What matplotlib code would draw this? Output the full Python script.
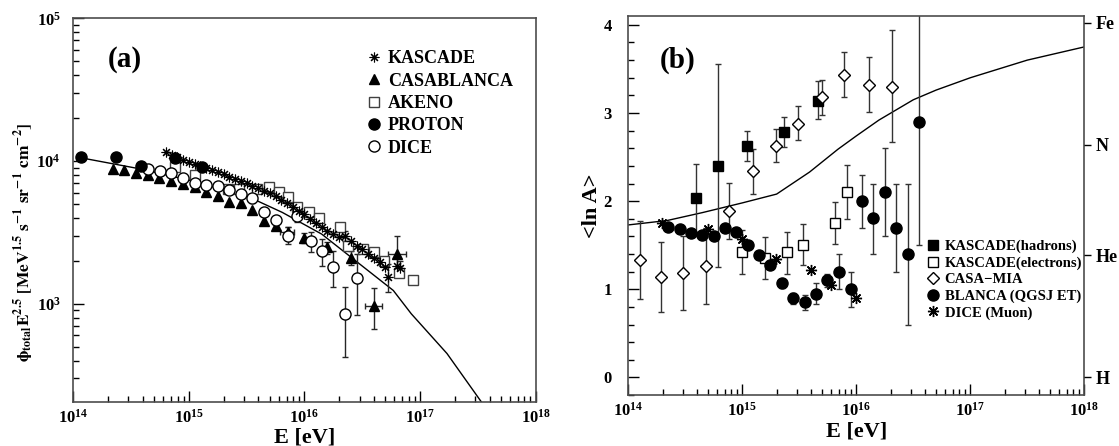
import numpy as np
import matplotlib.pyplot as plt
from matplotlib.ticker import LogLocator, NullFormatter, MultipleLocator

plt.rcParams['font.family'] = ['Liberation Serif', 'DejaVu Serif']
plt.rcParams['font.weight'] = 'bold'
plt.rcParams['axes.labelweight'] = 'bold'
plt.rcParams['mathtext.fontset'] = 'stix'
plt.rcParams['mathtext.default'] = 'bf'

nan = np.nan

# ---------------- panel (a) : all-particle flux ----------------
kascade_E = [6.31e14, 7.08e14, 7.94e14, 8.91e14, 1.0e15, 1.12e15, 1.26e15, 1.41e15,
             1.58e15, 1.78e15, 2.0e15, 2.24e15, 2.51e15, 2.82e15, 3.16e15, 3.55e15,
             3.98e15, 4.47e15, 5.01e15, 5.62e15, 6.31e15, 7.08e15, 7.94e15, 8.91e15,
             1.0e16, 1.12e16, 1.26e16, 1.41e16, 1.58e16, 1.78e16, 2.0e16, 2.24e16,
             2.51e16, 2.82e16, 3.16e16, 3.55e16, 3.98e16, 4.47e16, 5.01e16, 5.25e16,
             6.31e16, 6.76e16]
kascade_F = [11500, 11000, 10600, 10200, 9850, 9550, 9250, 8950,
             8650, 8350, 8050, 7750, 7450, 7200, 7000, 6700,
             6450, 6200, 5950, 5650, 5350, 5050, 4750, 4500,
             4250, 3950, 3700, 3450, 3250, 3100, 2950, 3000,
             2750, 2550, 2400, 2250, 2100, 1950, 1800, 1550,
             1850, 1780]
kascade_lo = [nan, nan, nan, nan, nan, nan, nan, nan, nan, nan, nan, nan, nan, nan,
              nan, nan, nan, nan, nan, nan, nan, nan, nan, nan, nan, nan, nan, nan,
              nan, nan, nan, 250, nan, nan, nan, nan, nan, nan, nan, 350, 250, 200]
kascade_hi = [nan, nan, nan, nan, nan, nan, nan, nan, nan, nan, nan, nan, nan, nan,
              nan, nan, nan, nan, nan, nan, nan, nan, nan, nan, nan, nan, nan, nan,
              nan, nan, nan, 250, nan, nan, nan, nan, nan, nan, nan, 350, 250, 200]

casa_E = [2.21e14, 2.77e14, 3.52e14, 4.42e14, 5.55e14, 7.03e14, 8.83e14, 1.12e15,
          1.41e15, 1.78e15, 2.23e15, 2.82e15, 3.52e15, 4.50e15, 5.65e15, 7.19e15,
          9.86e15, 1.57e16, 2.53e16, 3.96e16, 6.31e16]
casa_F = [8850, 8650, 8290, 7950, 7650, 7220, 6880, 6590,
          6020, 5700, 5200, 5070, 4570, 3810, 3520, 3160,
          2890, 2480, 2090, 970, 2250]
casa_lo = [nan, nan, nan, nan, nan, nan, nan, nan, nan, nan, nan, nan, nan, nan, nan,
           250, 220, 230, 220, 300, 630]
casa_hi = [nan, nan, nan, nan, nan, nan, nan, nan, nan, nan, nan, nan, nan, nan, nan,
           280, 230, 250, 250, 330, 750]
casa_xlo = [nan, nan, nan, nan, nan, nan, nan, nan, nan, nan, nan, nan, nan, nan, nan,
            1.0e15, nan, nan, nan, 0.64e16, 1.0e16]
casa_xhi = [nan, nan, nan, nan, nan, nan, nan, nan, nan, nan, nan, nan, nan, nan, nan,
            1.0e15, nan, nan, nan, 0.76e16, 1.2e16]

akeno_E = [7.55e14, 1.14e15, 2.20e15, 2.69e15, 3.90e15, 4.90e15, 5.98e15, 7.14e15,
           8.67e15, 1.10e16, 1.33e16, 2.04e16, 2.40e16, 3.20e16, 3.96e16, 4.91e16,
           6.53e16, 8.71e16]
akeno_F = [9130, 7980, 6340, 6340, 6410, 6620, 6110, 5610,
           4800, 4430, 3990, 3470, 2520, 2420, 2290, 2000,
           1640, 1470]

proton_E = [1.16e14, 2.32e14, 3.88e14, 7.55e14, 1.31e15]
proton_F = [10700, 10700, 9230, 10440, 9080]

dice_E = [4.42e14, 5.58e14, 7.03e14, 8.83e14, 1.12e15, 1.40e15, 1.78e15, 2.23e15,
          2.83e15, 3.52e15, 4.50e15, 5.65e15, 7.19e15, 8.67e15, 1.14e16, 1.41e16,
          1.78e16, 2.24e16, 2.84e16]
dice_F = [8750, 8520, 8290, 7660, 7060, 6770, 6690, 6240,
          5910, 5490, 4430, 3870, 3000, 4130, 2740, 2360,
          1820, 850, 1510]
dice_lo = [nan, nan, nan, nan, nan, nan, nan, nan, nan, 400, nan, nan, 380, 400,
           450, 510, 510, 425, 680]
dice_hi = [nan, nan, nan, nan, nan, nan, nan, nan, nan, 350, nan, nan, 430, 400,
           420, 480, 540, 456, 720]

model_a_E = [1.16e14, 3.96e14, 1.08e15, 3.38e15, 6.43e15, 1.41e16, 2.53e16,
             5.87e16, 8.39e16, 1.71e17, 3.38e17, 3.98e17]
model_a_F = [10540, 8750, 7240, 5550, 4365, 3076, 2118,
             1239, 851, 448, 206, 170]

# ---------------- panel (b) : <ln A> ----------------
had_E = [3.94e14, 6.15e14, 1.09e15, 2.30e15, 4.59e15]
had_v = [2.03, 2.40, 2.63, 2.79, 3.14]
had_lo = [0.38, 1.15, 0.17, 0.18, 0.21]
had_hi = [0.39, 1.16, 0.17, 0.16, 0.22]

ele_E = [1.0e15, 1.59e15, 2.49e15, 3.44e15, 6.44e15, 8.36e15]
ele_v = [1.42, 1.35, 1.42, 1.50, 1.75, 2.10]
ele_lo = [0.25, 0.23, 0.25, 0.23, 0.24, 0.30]
ele_hi = [0.25, 0.24, 0.23, 0.24, 0.24, 0.31]

cm_E = [1.27e14, 1.95e14, 3.01e14, 4.81e14, 7.59e14, 1.23e15, 1.99e15, 3.09e15,
        5.01e15, 7.83e15, 1.29e16, 2.07e16]
cm_v = [1.33, 1.14, 1.18, 1.26, 1.89, 2.34, 2.63, 2.88, 3.18, 3.43, 3.32, 3.30]
cm_lo = [0.44, 0.40, 0.42, 0.43, 0.32, 0.26, 0.19, 0.19, 0.20, 0.25, 0.31, 0.63]
cm_hi = [0.45, 0.40, 0.42, 0.43, 0.32, 0.25, 0.19, 0.20, 0.20, 0.26, 0.32, 0.64]

bl_E = [2.22e14, 2.82e14, 3.53e14, 4.42e14, 5.64e14, 7.05e14, 8.81e14, 1.13e15,
        1.40e15, 1.76e15, 2.22e15, 2.81e15, 3.54e15, 4.43e15, 5.57e15, 7.03e15,
        8.91e15, 1.12e16, 1.40e16, 1.77e16, 2.22e16, 2.82e16, 3.56e16]
bl_v = [1.71, 1.68, 1.64, 1.62, 1.60, 1.69, 1.65, 1.50, 1.39, 1.28, 1.07, 0.90,
        0.86, 0.95, 1.10, 1.20, 1.00, 2.00, 1.81, 2.10, 1.70, 1.40, 2.90]
bl_lo = [nan, nan, nan, nan, nan, nan, nan, nan, nan, nan, 0.05, 0.07, 0.09, 0.12,
         0.07, 0.20, 0.20, 0.30, 0.41, 0.50, 0.50, 0.80, 1.40]
bl_hi = [nan, nan, nan, nan, nan, nan, nan, nan, nan, nan, 0.05, 0.06, 0.08, 0.12,
         0.07, 0.20, 0.20, 0.30, 0.39, 0.50, 0.50, 0.80, 2.00]

mu_E = [1.98e14, 4.99e14, 1.0e15, 1.96e15, 3.97e15, 6.0e15, 9.93e15]
mu_v = [1.75, 1.68, 1.57, 1.34, 1.22, 1.05, 0.90]

model_b_E = [1e14, 2.19e14, 4.47e14, 1e15, 2.0e15, 3.89e15, 6.92e15, 1e16,
             1.58e16, 3.16e16, 5.01e16, 1e17, 3.16e17, 1e18]
model_b_v = [1.73, 1.78, 1.87, 1.98, 2.08, 2.33, 2.59, 2.74,
             2.92, 3.15, 3.26, 3.40, 3.60, 3.75]

elements = ['H', 'He', 'N', 'Fe']
element_lnA = [0.0, np.log(4), np.log(14), np.log(56)]


def style_axes(ax):
    ax.tick_params(which='both', direction='in', top=False, right=False,
                   labelsize=12, width=1)
    ax.tick_params(which='major', length=8)
    ax.tick_params(which='minor', length=4)
    ax.tick_params(axis='x', pad=5)
    ax.tick_params(axis='y', pad=9)
    for s in ax.spines.values():
        s.set_linewidth(1.2)
        s.set_color('0.3')


fig = plt.figure(figsize=(11.19, 4.46), dpi=100)

# ---------------- (a) ----------------
ax = fig.add_axes([0.0655, 0.0993, 0.4132, 0.8597])
ax.set_xscale('log')
ax.set_yscale('log')
ax.plot(model_a_E, model_a_F, color='black', lw=1)

ebkw = dict(fmt='none', ecolor='0.15', elinewidth=1, capsize=2.5)
ax.errorbar(kascade_E, kascade_F, yerr=[kascade_lo, kascade_hi], **ebkw)
ax.errorbar(casa_E, casa_F, yerr=[casa_lo, casa_hi], xerr=[casa_xlo, casa_xhi], **ebkw)
ax.errorbar(dice_E, dice_F, yerr=[dice_lo, dice_hi], **ebkw)

ax.plot(kascade_E, kascade_F, ls='none', marker=(8, 2, 0), ms=7, mew=0.8,
        color='black', label='KASCADE', zorder=4)
ax.plot(casa_E, casa_F, ls='none', marker='^', ms=7, color='black',
        label='CASABLANCA', zorder=3)
ax.plot(akeno_E, akeno_F, ls='none', marker='s', ms=7, mfc='white', mec='0.25',
        mew=1, label='AKENO', zorder=3)
ax.plot(proton_E, proton_F, ls='none', marker='o', ms=8, color='black',
        label='PROTON', zorder=4)
ax.plot(dice_E, dice_F, ls='none', marker='o', ms=8, mfc='white', mec='black',
        mew=1, label='DICE', zorder=3)

ax.set_xlim(1e14, 1e18)
ax.set_ylim(2.06e2, 1e5)
ax.xaxis.set_major_locator(LogLocator(base=10, numticks=10))
ax.xaxis.set_minor_locator(LogLocator(base=10, subs=np.arange(2, 10), numticks=50))
ax.xaxis.set_minor_formatter(NullFormatter())
ax.yaxis.set_minor_locator(LogLocator(base=10, subs=np.arange(2, 10), numticks=50))
ax.yaxis.set_minor_formatter(NullFormatter())
style_axes(ax)
ax.set_xlabel('E [eV]', fontsize=16, labelpad=1)
ax.set_ylabel(r'$\mathrm{\phi_{total}E^{2.5}\ [MeV^{1.5}\ s^{-1}\ sr^{-1}\ cm^{-2}]}$',
              fontsize=12.5)
ax.yaxis.set_label_coords(-0.08, 0.417)
ax.text(0.075, 0.875, '(a)', transform=ax.transAxes, fontsize=21, fontweight='bold')
ax.legend(loc='upper left', bbox_to_anchor=(0.63, 0.917), frameon=False,
          fontsize=13, handlelength=1.0, handletextpad=0.3, labelspacing=0.3,
          borderpad=0, borderaxespad=0)

# ---------------- (b) ----------------
bx = fig.add_axes([0.5615, 0.1143, 0.4075, 0.8497])
bx.set_xscale('log')
bx.plot(model_b_E, model_b_v, color='black', lw=1)

ebkw_b = dict(fmt='none', ecolor='0.2', elinewidth=1, capsize=2.5)
bx.errorbar(cm_E, cm_v, yerr=[cm_lo, cm_hi], **ebkw_b)
bx.errorbar(had_E, had_v, yerr=[had_lo, had_hi], **ebkw_b)
bx.errorbar(ele_E, ele_v, yerr=[ele_lo, ele_hi], **ebkw_b)
bx.errorbar(bl_E, bl_v, yerr=[bl_lo, bl_hi], **ebkw_b)

bx.plot(had_E, had_v, ls='none', marker='s', ms=7, color='black',
        label='KASCADE(hadrons)', zorder=4)
bx.plot(ele_E, ele_v, ls='none', marker='s', ms=7, mfc='white', mec='black',
        mew=1, label='KASCADE(electrons)', zorder=4)
bx.plot(cm_E, cm_v, ls='none', marker='D', ms=6.5, mfc='white', mec='black',
        mew=1, label='CASA\u2212MIA', zorder=4)
bx.plot(bl_E, bl_v, ls='none', marker='o', ms=8, color='black',
        label='BLANCA (QGSJ ET)', zorder=4)
bx.plot(mu_E, mu_v, ls='none', marker=(8, 2, 0), ms=8, mew=1, color='black',
        label='DICE (Muon)', zorder=5)

bx.set_xlim(1e14, 1e18)
bx.set_ylim(-0.2, 4.1)
bx.xaxis.set_major_locator(LogLocator(base=10, numticks=10))
bx.xaxis.set_minor_locator(LogLocator(base=10, subs=np.arange(2, 10), numticks=50))
bx.xaxis.set_minor_formatter(NullFormatter())
bx.yaxis.set_major_locator(MultipleLocator(1))
bx.yaxis.set_minor_locator(MultipleLocator(0.2))
style_axes(bx)
bx.tick_params(axis='y', pad=12)
bx.set_xlabel('E [eV]', fontsize=16, labelpad=1)
bx.set_ylabel('<ln A>', fontsize=16, labelpad=1)
bx.text(0.07, 0.865, '(b)', transform=bx.transAxes, fontsize=21, fontweight='bold')
bx.legend(loc='upper left', bbox_to_anchor=(0.652, 0.41), frameon=False,
          fontsize=10.5, handlelength=1.0, handletextpad=0.3, labelspacing=0.22,
          borderpad=0, borderaxespad=0)

rx = bx.twinx()
rx.set_ylim(bx.get_ylim())
rx.set_yticks(element_lnA)
rx.set_yticklabels(elements)
rx.tick_params(axis='y', direction='out', length=5, labelsize=13, width=1)
for s in rx.spines.values():
    s.set_visible(False)

fig.savefig('out.png', dpi=100)
